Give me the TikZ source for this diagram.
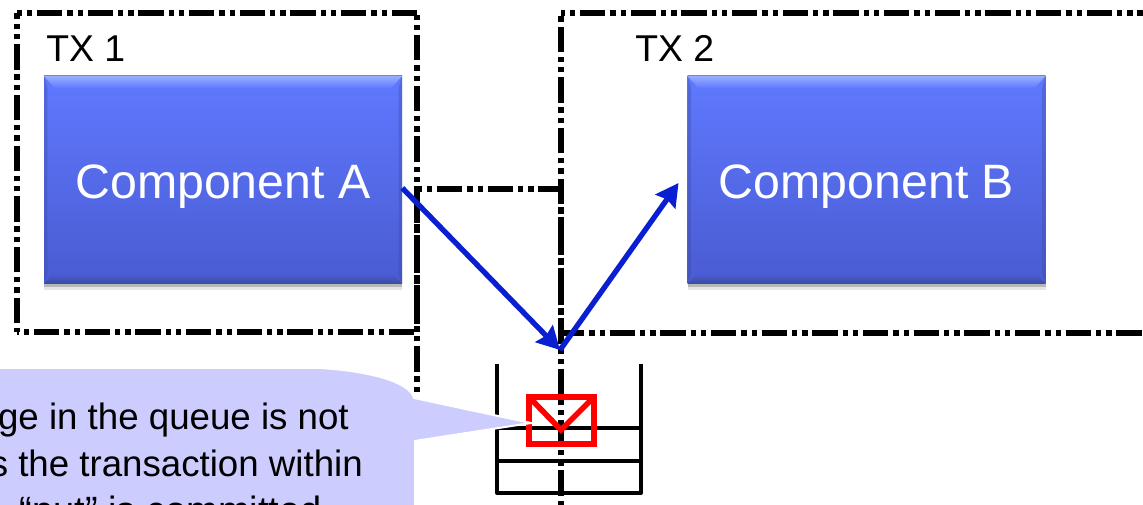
\documentclass[tikz,border=0pt]{standalone}
\usepackage{fontspec}
\setmainfont{Liberation Sans}
\usepackage{tikz}
\usetikzlibrary{arrows.meta,shadows}
\definecolor{boxtop}{HTML}{5F79FF}
\definecolor{boxbottom}{HTML}{4A5BD2}
\definecolor{bevellight}{HTML}{9AAEFF}
\definecolor{beveldark}{HTML}{3A4A9E}
\definecolor{flowblue}{HTML}{0A1FD2}
\definecolor{notefill}{HTML}{CCCCFF}
\tikzset{
  txline/.style={line width=4pt,dash pattern=on 19pt off 3.75pt on 4pt off 3.75pt on 4pt off 3.5pt},
  compbox/.style={rectangle,inner sep=0pt,minimum width=268.5pt,minimum height=156pt,
    top color=boxtop,bottom color=boxbottom,text=white,font=\fontsize{36.2}{40}\selectfont,
    text height=34.5pt,text depth=7pt,
    drop shadow={shadow xshift=0pt,shadow yshift=-4.5pt,opacity=.1,fill=black},
    drop shadow={shadow xshift=0pt,shadow yshift=-2pt,opacity=.2,fill=black},
    path picture={
      \coordinate (nw) at (path picture bounding box.north west);
      \coordinate (ne) at (path picture bounding box.north east);
      \coordinate (sw) at (path picture bounding box.south west);
      \coordinate (se) at (path picture bounding box.south east);
      \shade[top color=bevellight,bottom color=boxtop] (nw) -- (ne) -- ([shift={(-8pt,-9pt)}]ne) -- ([shift={(8pt,-9pt)}]nw) -- cycle;
      \shade[top color=boxbottom,bottom color=beveldark] (sw) -- (se) -- ([shift={(-6pt,7pt)}]se) -- ([shift={(6pt,7pt)}]sw) -- cycle;
      \fill[beveldark,opacity=.35] (nw) -- (sw) -- ([shift={(2.5pt,7pt)}]sw) -- ([shift={(2.5pt,-9pt)}]nw) -- cycle;
      \fill[beveldark,opacity=.35] (ne) -- (se) -- ([shift={(-2.5pt,7pt)}]se) -- ([shift={(-2.5pt,-9pt)}]ne) -- cycle;
    }},
  txlabel/.style={anchor=base west,inner sep=0pt,font=\fontsize{28}{32}\selectfont},
  notetext/.style={anchor=base east,inner sep=0pt,font=\fontsize{27.5}{32}\selectfont},
  flowarrow/.style={line width=4pt,flowblue,-{Stealth[length=17pt,width=18pt,inset=2pt]}},
  queueline/.style={line width=3pt,line join=round},
  envelope/.style={line width=4.2pt,red,line join=miter}
}
\begin{document}
\begin{tikzpicture}[x=0.75pt,y=-0.75pt]
  \path[use as bounding box,clip] (0,0) rectangle (1143,505);
  % transaction frames
  \draw[txline,dash phase=31.25pt] (17,332) -- (17,13);
  \draw[txline,dash phase=23pt] (17,13) -- (417,13);
  \draw[txline,dash phase=21.5pt] (417,13) -- (417,332);
  \draw[txline,dash phase=25.25pt] (17,332) -- (417,332);
  \draw[txline,dash phase=17.3pt] (561,333) -- (561,13);
  \draw[txline,dash phase=23.75pt] (561,13) -- (1143,13);
  \draw[txline,dash phase=1.5pt] (561,333) -- (1143,333);
  % frame between the two
  \draw[txline,dash phase=22.8pt] (417,392) -- (417,189) -- (561,189) -- (561,505);
  \node[txlabel] (txa) at (46,62) {TX 1};
  \node[txlabel] (txb) at (635,62) {TX 2};
  \node[compbox] (compa) at (223,180) {Component A};
  \node[compbox] (compb) at (866.5,180) {Component B};
  % queue
  \coordinate (qtl) at (497,364);
  \coordinate (qbl) at (497,493);
  \coordinate (qbr) at (641,493);
  \coordinate (qtr) at (641,364);
  \draw[queueline] (qtl) -- (qbl) -- (qbr) -- (qtr);
  \draw[queueline] (497,428) -- (641,428);
  \draw[queueline] (497,461) -- (641,461);
  \draw[envelope] (529,397) rectangle (594,444);
  \draw[envelope] (529,397) -- (561,430) -- (594,397);
  \coordinate (qin) at (560,350);
  \draw[flowarrow] ([yshift=-6pt]compa.east) -- (qin);
  \draw[flowarrow] (qin) -- ([shift={(-6.5pt,-2.25pt)}]compb.west);
  % callout
  \draw[fill=notefill,draw=white,line width=1.5pt] (-5,368) -- (320,368)
    .. controls (370,371) and (410,382) .. (414,398)
    -- (531,423) -- (415,441) -- (415,510) -- (-5,510) -- cycle;
  \node[notetext] (notea) at (349,430) {ge in the queue is not};
  \node[notetext] (noteb) at (363,477) {s the transaction within};
  \node[notetext,font=\fontsize{28.5}{32}\selectfont] (notec) at (322,524) {“put” is committed};
\end{tikzpicture}
\end{document}
